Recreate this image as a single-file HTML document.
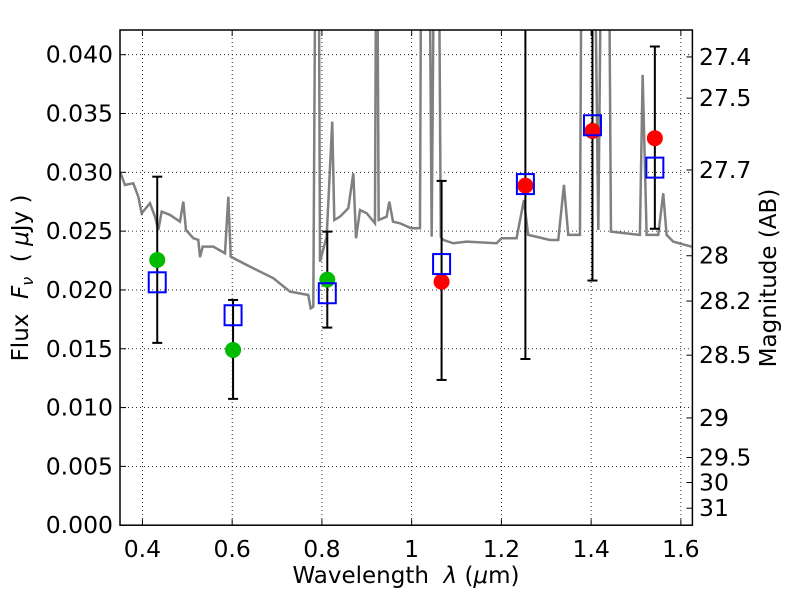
<!DOCTYPE html>
<html><head><meta charset="utf-8"><style>
body{margin:0;background:#fff}
svg{display:block;font-family:"DejaVu Sans","Liberation Sans",sans-serif}
text{white-space:pre}
</style></head><body>
<svg id="c" width="800" height="600" xmlns="http://www.w3.org/2000/svg"></svg>
<script>
const specWave=[.3515,.361,.3797,.3908,.3983,.4168,.428,.4354,.4429,.4614,.4837,.4911,.497,.5134,.5245,.5283,.5343,.558,.584,.5914,.5967,.6397,.6916,.7288,.7696,.775,.7808,.787,.792,.7957,.8106,.823,.8276,.8403,.8588,.87,.876,.8849,.8998,.9182,.922,.9265,.9443,.9502,.9585,.974,.9985,1.0185,1.0223,1.03,1.038,1.0446,1.052,1.059,1.065,1.0705,1.0927,1.1224,1.1893,1.2004,1.2338,1.2502,1.2597,1.3082,1.3268,1.3394,1.349,1.3751,1.380,1.392,1.405,1.416,1.425,1.438,1.4442,1.5087,1.5148,1.5237,1.5496,1.5607,1.5682,1.583,1.624];
const specFlux=[.02992,.02893,.02907,.02793,.02652,.02737,.02623,.0251,.02666,.02638,.02581,.02751,.0251,.0244,.02425,.02278,.02368,.02368,.02312,.02793,.02283,.02198,.021,.01986,.01957,.01844,.01858,.06,.06,.0224,.02453,.03431,.02595,.02623,.02695,.02992,.0244,.0268,.02652,.02567,.06,.02595,.02623,.02751,.0258,.02567,.02525,.02525,.06,.06,.06,.02453,.06,.06,.0245,.02425,.02397,.02411,.02397,.0244,.0244,.02765,.02468,.02425,.02425,.02893,.02468,.02468,.06,.06,.06,.0251,.06,.06,.02496,.02468,.03828,.02468,.02468,.02822,.02468,.02411,.02368];
const ptWave=[.433,.602,.812,1.0667,1.2535,1.403,1.542];
const ptFlux=[.02255,.0149,.02088,.0207,.02887,.03352,.0329];
const ptColor=["#00bb00","#00bb00","#00bb00","#ff0000","#ff0000","#ff0000","#ff0000"];
const modelFlux=[.02065,.01785,.01972,.0222,.029,.034,.0304];
const errLow=[.0155,.01074,.0168,.01235,.01413,.0208,.0252];
const errHigh=[.02963,.01915,.02496,.02927,.06,.06,.0407];
const xTicks=[0.4,0.6,0.8,1.0,1.2,1.4,1.6];
const xTickLabels=["0.4","0.6","0.8","1","1.2","1.4","1.6"];
const yTicks=[0,.005,.01,.015,.02,.025,.03,.035,.04];
const yTickLabels=["0.000","0.005","0.010","0.015","0.020","0.025","0.030","0.035","0.040"];
const magTicks=[27.4,27.5,27.7,28,28.2,28.5,29,29.5,30,31];
const magTickLabels=["27.4","27.5","27.7","28","28.2","28.5","29","29.5","30","31"];

const L=120,R=692.4,T=30,B=525.2,X0=0.35,X1=1.6257,Y0=0,Y1=0.0421;
const sx=v=>L+(v-X0)/(X1-X0)*(R-L);
const sy=v=>B-(v-Y0)/(Y1-Y0)*(B-T);
const NS="http://www.w3.org/2000/svg";
const svg=document.getElementById('c');
function mk(t,a,p){const e=document.createElementNS(NS,t);for(const k in a)e.setAttribute(k,a[k]);(p||svg).appendChild(e);return e;}
const defs=mk('defs',{});const cp=mk('clipPath',{id:'pc'},defs);mk('rect',{x:L,y:T,width:R-L,height:B-T},cp);
const grid=mk('g',{});


xTicks.forEach((v,i)=>{const x=sx(v);
 mk('line',{x1:x,x2:x,y1:T,y2:B,stroke:'#000','stroke-width':0.8,'stroke-dasharray':'1,3'},grid);
 mk('line',{x1:x,x2:x,y1:B,y2:B-6,stroke:'#000'},grid);mk('line',{x1:x,x2:x,y1:T,y2:T+6,stroke:'#000'},grid);
 const t=mk('text',{x:x,y:557,'font-size':23.5,'text-anchor':'middle'});t.textContent=xTickLabels[i];
 
 });
yTicks.forEach((v,i)=>{const y=sy(v);
 mk('line',{x1:L,x2:R,y1:y,y2:y,stroke:'#000','stroke-width':0.8,'stroke-dasharray':'1,3'},grid);
 mk('line',{x1:L,x2:L+6,y1:y,y2:y,stroke:'#000'},grid);
 const t=mk('text',{x:113,y:y+8,'font-size':23.5,'text-anchor':'end'});t.textContent=yTickLabels[i];
 
 });
magTicks.forEach((m,i)=>{const y=sy(Math.pow(10,(23.9-m)/2.5));
 mk('line',{x1:R,x2:R-6,y1:y,y2:y,stroke:'#000'});
 const t=mk('text',{x:699,y:y+8,'font-size':23.5});t.textContent=magTickLabels[i];
 
 });
const pg=mk('g',{'clip-path':'url(#pc)'});
const spec=mk('polyline',{points:specWave.map((w,i)=>sx(w)+','+sy(specFlux[i])).join(' '),fill:'none',stroke:'#808080','stroke-width':2.5},pg);


ptWave.forEach((w,i)=>{const x=sx(w);
 const eb=mk('g',{},pg);
 
 
 mk('line',{x1:x,x2:x,y1:sy(errLow[i]),y2:sy(errHigh[i]),stroke:'#000','stroke-width':2},eb);
 mk('line',{x1:x-5,x2:x+5,y1:sy(errLow[i]),y2:sy(errLow[i]),stroke:'#000','stroke-width':2},eb);
 mk('line',{x1:x-5,x2:x+5,y1:sy(errHigh[i]),y2:sy(errHigh[i]),stroke:'#000','stroke-width':2},eb);
 const c=mk('circle',{cx:x,cy:sy(ptFlux[i]),r:8,fill:ptColor[i]},pg);
 
 
 const s=mk('rect',{x:x-8.5,y:sy(modelFlux[i])-10,width:17,height:20,fill:'none',stroke:'#0000ff','stroke-width':2},pg);
 
 });
const fr=mk('rect',{x:L,y:T,width:R-L,height:B-T,fill:'none',stroke:'#000','stroke-width':1.5});


const xl=mk('text',{x:406,y:583,'font-size':23,'text-anchor':'middle'});
xl.innerHTML='Wavelength  <tspan font-style="italic">λ</tspan> (<tspan font-style="italic">μ</tspan>m)';


const yl=mk('text',{x:0,y:0,'font-size':23,'text-anchor':'middle',transform:'translate(28,278) rotate(-90)'});
yl.innerHTML='Flux  <tspan font-style="italic">F</tspan><tspan font-style="italic" font-size="16" dy="5">ν</tspan><tspan dy="-5">  ( </tspan><tspan font-style="italic">μ</tspan>Jy )';


const ml=mk('text',{x:0,y:0,'font-size':23,'text-anchor':'middle',transform:'translate(776,278) rotate(-90)'});
ml.textContent='Magnitude (AB)';


</script>
</body></html>
